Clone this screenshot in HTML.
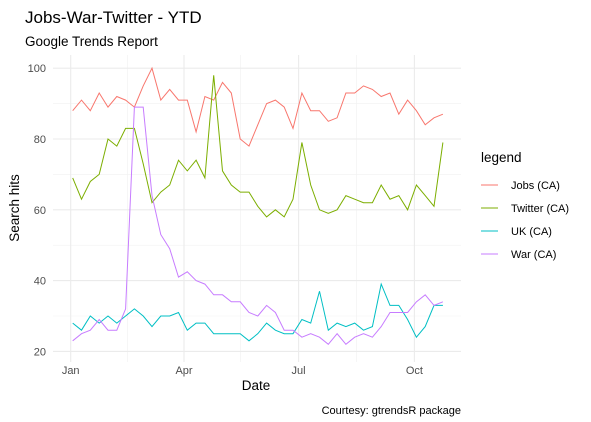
<!DOCTYPE html>
<html><head><meta charset="utf-8"><style>
body{margin:0;background:#fff;font-family:"Liberation Sans",Arial,sans-serif}
svg{display:block}
</style></head><body>
<svg id="chart" width="591" height="422" xmlns="http://www.w3.org/2000/svg" font-family="Liberation Sans, Arial, sans-serif">
<text x="25" y="23" font-size="17" fill="#000">Jobs-War-Twitter - YTD</text>
<text x="25" y="46" font-size="13.5" fill="#000">Google Trends Report</text>
<g id="grid"></g>
<g id="series"></g>
<g id="axes"></g>
<text transform="translate(19,208) rotate(-90)" text-anchor="middle" font-size="13.5" fill="#000">Search hits</text>
<text x="256" y="390" text-anchor="middle" font-size="13.5" fill="#000">Date</text>
<text x="461" y="414" text-anchor="end" font-size="11" fill="#000">Courtesy: gtrendsR package</text>
<g id="legend"></g>
</svg>
<script>
const seriesNames=["Jobs (CA)","Twitter (CA)","UK (CA)","War (CA)"];
const seriesColors=["#F8766D","#7CAE00","#00BFC4","#C77CFF"];
const jobs=[88,91,88,93,89,92,91,89,95,100,91,94,91,91,82,92,91,96,93,80,78,84,90,91,89,83,93,88,88,85,86,93,93,95,94,92,93,87,91,88,84,86,87];
const twitter=[69,63,68,70,80,78,83,83,73,62,65,67,74,71,74,69,98,71,67,65,65,61,58,60,58,63,79,67,60,59,60,64,63,62,62,67,63,64,60,67,64,61,79];
const uk=[28,26,30,28,30,28,30,32,30,27,30,30,31,26,28,28,25,25,25,25,23,25,28,26,25,25,29,28,37,26,28,27,28,26,27,39,33,33,29,24,27,33,33];
const war=[23,25,26,29,26,26,32,89,89,64,53,49,41,42.5,40,39,36,36,34,34,31,30,33,31,26,26,24,25,24,22,25,22,24,25,24,27,31,31,31,34,36,33,34];
const yTicks=[20,40,60,80,100];
const xTickLabels=["Jan","Apr","Jul","Oct"];
const xTickDays=[0,90,181,273];
const allSeries=[jobs,twitter,uk,war];
const NS="http://www.w3.org/2000/svg";
const L=53,R=461,T=55,B=362;
const y=v=>351.4-(v-20)*3.54;
const xd=d=>70.7+1.259*d;
const xi=i=>xd(1.6+7*i);
function mk(tag,attrs,parent){const e=document.createElementNS(NS,tag);for(const k in attrs)e.setAttribute(k,attrs[k]);parent.appendChild(e);return e;}
const grid=document.getElementById('grid'),axes=document.getElementById('axes'),ser=document.getElementById('series'),leg=document.getElementById('legend');
for(let v=30;v<=90;v+=20){const l=mk('line',{x1:L,x2:R,y1:y(v),y2:y(v),stroke:'#f1f1f1','stroke-width':0.6},grid);

}
[45,135,227].forEach(d=>{const l=mk('line',{x1:xd(d),x2:xd(d),y1:T,y2:B,stroke:'#f1f1f1','stroke-width':0.6},grid);

});
yTicks.forEach(v=>{const l=mk('line',{x1:L,x2:R,y1:y(v),y2:y(v),stroke:'#ebebeb','stroke-width':1.1},grid);


const t=mk('text',{x:46,y:y(v)+4,'text-anchor':'end','font-size':11,fill:'#4d4d4d'},axes);t.textContent=v;

});
xTickDays.forEach((d,i)=>{const l=mk('line',{x1:xd(d),x2:xd(d),y1:T,y2:B,stroke:'#ebebeb','stroke-width':1.1},grid);


const t=mk('text',{x:xd(d),y:374,'text-anchor':'middle','font-size':11,fill:'#4d4d4d'},axes);t.textContent=xTickLabels[i];

});
allSeries.forEach((s,k)=>{const p=mk('polyline',{points:s.map((v,i)=>xi(i).toFixed(1)+','+y(v).toFixed(1)).join(' '),fill:'none',stroke:seriesColors[k],'stroke-width':1},ser);

});
const lt=mk('text',{x:481,y:162,'font-size':13.5,fill:'#000'},leg);lt.textContent='legend';


seriesNames.forEach((n,k)=>{const yy=185+k*23;
const g=mk('g',{},leg);


mk('line',{x1:481,x2:498,y1:yy,y2:yy,stroke:seriesColors[k],'stroke-width':1},g);
const t=mk('text',{x:511,y:yy+4,'font-size':11,fill:'#000'},g);t.textContent=n;});
</script>
</body></html>
